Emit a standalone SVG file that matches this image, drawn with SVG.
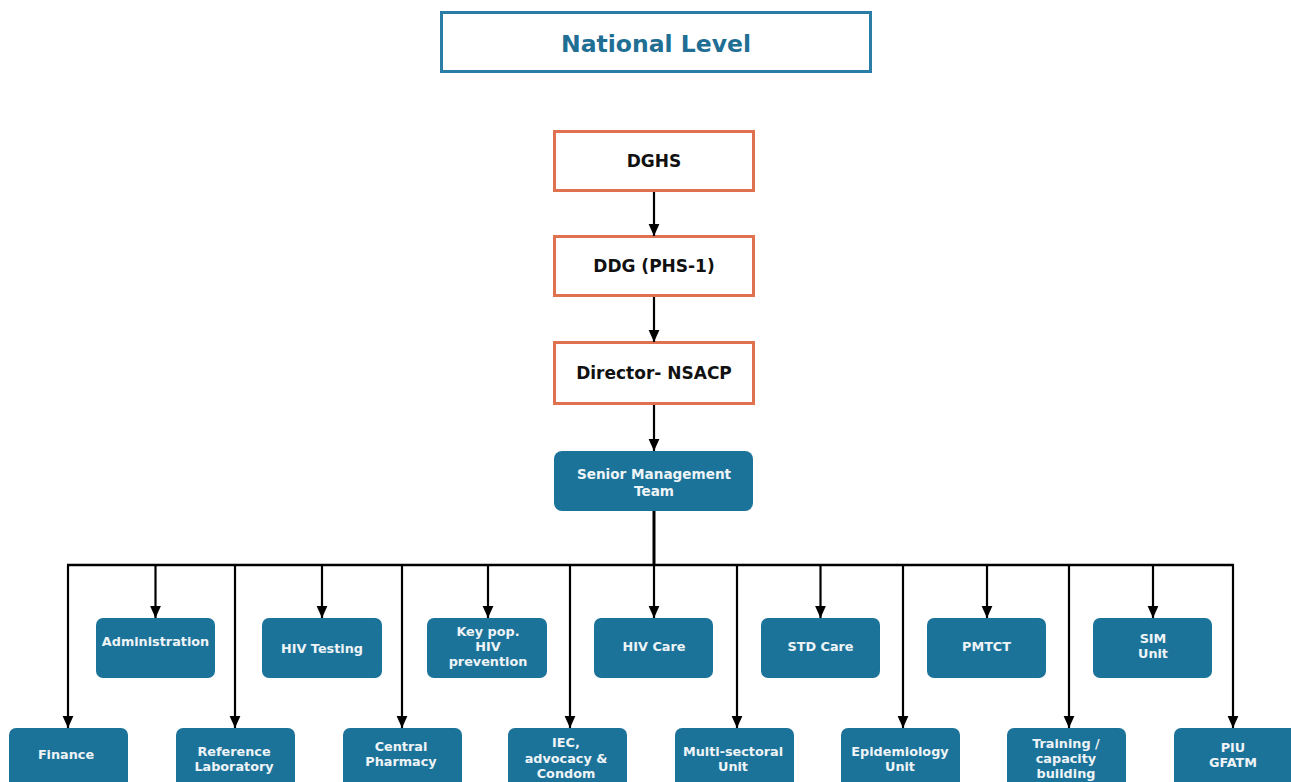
<svg xmlns="http://www.w3.org/2000/svg" width="1291" height="782" viewBox="0 0 1291 782">
<defs>
<marker id="ah" viewBox="0 0 10 10" refX="10" refY="5" markerWidth="12" markerHeight="12" orient="auto" markerUnits="userSpaceOnUse" >
<path d="M0,0.5 L10,5 L0,9.5 z" fill="#000"/>
</marker>
<style>
.nat{fill:#fff;stroke:#2a7da5;stroke-width:3}
.nt{font-family:"DejaVu Sans",Verdana,sans-serif;font-weight:bold;font-size:23.5px;fill:#1f6e94;text-anchor:middle}
.ob{fill:#fff;stroke:#e0714f;stroke-width:3}
.ot{font-family:"DejaVu Sans",Verdana,sans-serif;font-weight:bold;font-size:17px;fill:#111;text-anchor:middle}
.bb{fill:#1c7399;stroke:none}
.bt{font-family:"DejaVu Sans",Verdana,sans-serif;font-weight:bold;font-size:12.8px;fill:#eef4f7;text-anchor:middle}
.st{font-family:"DejaVu Sans",Verdana,sans-serif;font-weight:bold;font-size:13.6px;fill:#eef4f7;text-anchor:middle}
.ca{stroke:#000;stroke-width:2.2;fill:none}
</style>
</defs>
<rect width="1291" height="782" fill="#fff"/>

<g id="national-level">
<rect class="nat" x="441.5" y="12.5" width="429" height="59"/>
<text class="nt" x="656" y="52">National Level</text>
</g>

<g id="dghs">
<rect class="ob" x="554.5" y="131.5" width="199" height="59"/>
<text class="ot" x="654" y="167">DGHS</text>
</g>
<g id="ddg">
<rect class="ob" x="554.5" y="236.5" width="199" height="59"/>
<text class="ot" x="654" y="272">DDG (PHS-1)</text>
</g>
<g id="director">
<rect class="ob" x="554.5" y="342.5" width="199" height="61"/>
<text class="ot" x="654" y="379">Director- NSACP</text>
</g>
<g id="smt">
<rect class="bb" x="554" y="451" width="199" height="60" rx="8"/>
<text class="st" x="654" y="479">Senior Management</text>
<text class="st" x="654" y="496">Team</text>
</g>

<g id="connectors">
<line class="ca" x1="654" y1="192" x2="654" y2="236" marker-end="url(#ah)"/>
<line class="ca" x1="654" y1="297" x2="654" y2="342" marker-end="url(#ah)"/>
<line class="ca" x1="654" y1="405" x2="654" y2="451" marker-end="url(#ah)"/>
<line x1="654" y1="511" x2="654" y2="565" stroke="#000" stroke-width="3"/>
<line x1="67" y1="565" x2="1234" y2="565" stroke="#000" stroke-width="2.5"/>
<line class="ca" x1="155.5" y1="565" x2="155.5" y2="618" marker-end="url(#ah)"/>
<line class="ca" x1="322" y1="565" x2="322" y2="618" marker-end="url(#ah)"/>
<line class="ca" x1="488" y1="565" x2="488" y2="618" marker-end="url(#ah)"/>
<line class="ca" x1="654" y1="565" x2="654" y2="618" marker-end="url(#ah)"/>
<line class="ca" x1="820.5" y1="565" x2="820.5" y2="618" marker-end="url(#ah)"/>
<line class="ca" x1="987" y1="565" x2="987" y2="618" marker-end="url(#ah)"/>
<line class="ca" x1="1153" y1="565" x2="1153" y2="618" marker-end="url(#ah)"/>
<line class="ca" x1="68" y1="565" x2="68" y2="728" marker-end="url(#ah)"/>
<line class="ca" x1="235" y1="565" x2="235" y2="728" marker-end="url(#ah)"/>
<line class="ca" x1="402" y1="565" x2="402" y2="728" marker-end="url(#ah)"/>
<line class="ca" x1="570" y1="565" x2="570" y2="728" marker-end="url(#ah)"/>
<line class="ca" x1="737" y1="565" x2="737" y2="728" marker-end="url(#ah)"/>
<line class="ca" x1="903" y1="565" x2="903" y2="728" marker-end="url(#ah)"/>
<line class="ca" x1="1069" y1="565" x2="1069" y2="728" marker-end="url(#ah)"/>
<line class="ca" x1="1233" y1="565" x2="1233" y2="728" marker-end="url(#ah)"/>
</g>

<g id="administration">
<rect class="bb" x="96" y="618" width="119" height="60" rx="7"/>
<text class="bt" x="155.5" y="646">Administration</text>
</g>
<g id="hiv-testing">
<rect class="bb" x="262" y="618" width="120" height="60" rx="7"/>
<text class="bt" x="322" y="653">HIV Testing</text>
</g>
<g id="key-pop">
<rect class="bb" x="427" y="618" width="120" height="60" rx="7"/>
<text class="bt" x="488" y="636">Key pop.</text>
<text class="bt" x="488" y="651">HIV</text>
<text class="bt" x="488" y="666">prevention</text>
</g>
<g id="hiv-care">
<rect class="bb" x="594" y="618" width="119" height="60" rx="7"/>
<text class="bt" x="654" y="651">HIV Care</text>
</g>
<g id="std-care">
<rect class="bb" x="761" y="618" width="119" height="60" rx="7"/>
<text class="bt" x="820.5" y="651">STD Care</text>
</g>
<g id="pmtct">
<rect class="bb" x="927" y="618" width="119" height="60" rx="7"/>
<text class="bt" x="986.5" y="651">PMTCT</text>
</g>
<g id="sim-unit">
<rect class="bb" x="1093" y="618" width="119" height="60" rx="7"/>
<text class="bt" x="1153" y="643">SIM</text>
<text class="bt" x="1153" y="658">Unit</text>
</g>

<g id="finance">
<rect class="bb" x="9" y="728" width="119" height="62" rx="7"/>
<text class="bt" x="66" y="759">Finance</text>
</g>
<g id="reference-laboratory">
<rect class="bb" x="176" y="728" width="119" height="62" rx="7"/>
<text class="bt" x="234" y="756">Reference</text>
<text class="bt" x="234" y="771">Laboratory</text>
</g>
<g id="central-pharmacy">
<rect class="bb" x="343" y="728" width="119" height="62" rx="7"/>
<text class="bt" x="401" y="751">Central</text>
<text class="bt" x="401" y="766">Pharmacy</text>
</g>
<g id="iec">
<rect class="bb" x="508" y="728" width="119" height="62" rx="7"/>
<text class="bt" x="566" y="747">IEC,</text>
<text class="bt" x="566" y="763">advocacy &amp;</text>
<text class="bt" x="566" y="778">Condom</text>
</g>
<g id="multi-sectoral">
<rect class="bb" x="675" y="728" width="119" height="62" rx="7"/>
<text class="bt" x="733" y="756">Multi-sectoral</text>
<text class="bt" x="733" y="771">Unit</text>
</g>
<g id="epidemiology">
<rect class="bb" x="841" y="728" width="119" height="62" rx="7"/>
<text class="bt" x="900" y="756">Epidemiology</text>
<text class="bt" x="900" y="771">Unit</text>
</g>
<g id="training">
<rect class="bb" x="1007" y="728" width="119" height="62" rx="7"/>
<text class="bt" x="1066" y="748">Training /</text>
<text class="bt" x="1066" y="763">capacity</text>
<text class="bt" x="1066" y="778">building</text>
</g>
<g id="piu-gfatm">
<rect class="bb" x="1174" y="728" width="125" height="62" rx="7"/>
<text class="bt" x="1233" y="752">PIU</text>
<text class="bt" x="1233" y="767">GFATM</text>
</g>
</svg>
